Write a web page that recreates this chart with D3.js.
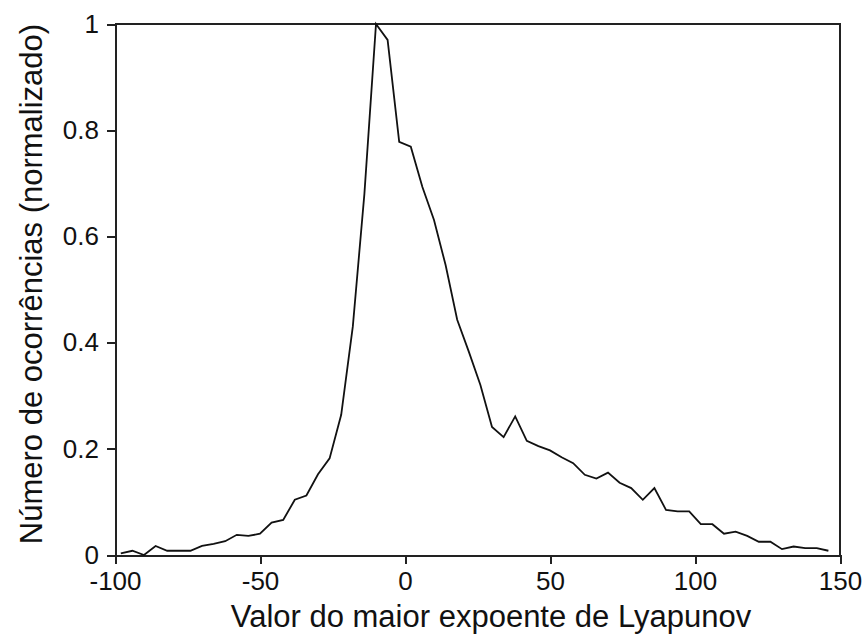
<!DOCTYPE html>
<html>
<head>
<meta charset="utf-8">
<script src="https://cdn.jsdelivr.net/npm/d3@7"></script>
<style>
	body { margin: 0; background: #fff; }
	text { font-family: "Liberation Sans", Arial, sans-serif; fill: #111; }
</style>
</head>
<body>
<div id="chart"></div>
<script>
// bin centres of the Lyapunov exponent histogram
var lyap_x = [-98, -94, -90, -86, -82, -78, -74, -70, -66, -62, -58, -54, -50, -46, -42,
	-38, -34, -30, -26, -22, -18, -14, -10, -6, -2, 2, 6, 10, 14, 18, 22, 26, 30, 34, 38,
	42, 46, 50, 54, 58, 62, 66, 70, 74, 78, 82, 86, 90, 94, 98, 102, 106, 110, 114, 118,
	122, 126, 130, 134, 138, 142, 146];

// normalized counts
var counts = [0.003, 0.008, 0.0, 0.017, 0.008, 0.008, 0.008, 0.017, 0.021, 0.026, 0.038,
	0.036, 0.040, 0.061, 0.066, 0.104, 0.112, 0.152, 0.182, 0.264, 0.43, 0.68, 1.0, 0.97,
	0.778, 0.769, 0.693, 0.631, 0.546, 0.443, 0.383, 0.32, 0.241, 0.222, 0.261, 0.215,
	0.205, 0.197, 0.184, 0.173, 0.151, 0.144, 0.155, 0.136, 0.126, 0.104, 0.126, 0.085,
	0.082, 0.082, 0.058, 0.058, 0.040, 0.044, 0.036, 0.025, 0.025, 0.011, 0.016, 0.013,
	0.013, 0.008];

var x_ticks = [-100, -50, 0, 50, 100, 150];
var x_tick_labels = ['-100', '-50', '0', '50', '100', '150'];
var y_ticks = [0, 0.2, 0.4, 0.6, 0.8, 1];
var y_tick_labels = ['0', '0.2', '0.4', '0.6', '0.8', '1'];

var x_title = 'Valor do maior expoente de Lyapunov';
var y_title = 'Número de ocorrências (normalizado)';

var width = 862,
	height = 635,
	plot_left = 115,
	plot_right = 840,
	plot_top = 24,
	plot_bottom = 555;

var svg = d3.select('#chart')
	.append('svg')
	.attr('width', width)
	.attr('height', height);

var x = d3.scaleLinear().domain([-100, 150]).range([plot_left, plot_right]);
var y = d3.scaleLinear().domain([0, 1]).range([plot_bottom, plot_top]);

// frame (top and right sides, no ticks)
svg.append('path')
	.attr('d', 'M' + plot_left + ',' + plot_top + 'H' + plot_right + 'V' + plot_bottom)
	.attr('fill', 'none')
	.attr('stroke', '#222')
	.attr('stroke-width', 2)
	.attr('shape-rendering', 'crispEdges');

svg.append('g')
	.attr('transform', 'translate(0,' + plot_bottom + ')')
	.call(d3.axisBottom(x).tickValues(x_ticks).tickSize(9).tickSizeOuter(0).tickPadding(8)
		.tickFormat(function(d, i) { return x_tick_labels[i]; }));

svg.append('g')
	.attr('transform', 'translate(' + plot_left + ',0)')
	.call(d3.axisLeft(y).tickValues(y_ticks).tickSize(8).tickSizeOuter(0).tickPadding(8)
		.tickFormat(function(d, i) { return y_tick_labels[i]; }));

svg.selectAll('.domain, .tick line')
	.attr('stroke', '#222')
	.attr('stroke-width', 2)
	.attr('shape-rendering', 'crispEdges');

svg.selectAll('.tick text')
	.style('font-size', '26px')
	.style('font-family', '"Liberation Sans", Arial, sans-serif')
	.attr('fill', '#111');

var line = d3.line()
	.x(function(d, i) { return x(lyap_x[i]); })
	.y(function(d) { return y(d); });

svg.append('path')
	.datum(counts)
	.attr('d', line)
	.attr('fill', 'none')
	.attr('stroke', '#111')
	.attr('stroke-width', 1.8);

svg.append('text')
	.attr('x', 491)
	.attr('y', 627)
	.attr('text-anchor', 'middle')
	.style('font-size', '31px')
	.text(x_title);

svg.append('text')
	.attr('transform', 'translate(42,284) rotate(-90)')
	.attr('text-anchor', 'middle')
	.style('font-size', '31px')
	.text(y_title);
</script>
</body>
</html>
